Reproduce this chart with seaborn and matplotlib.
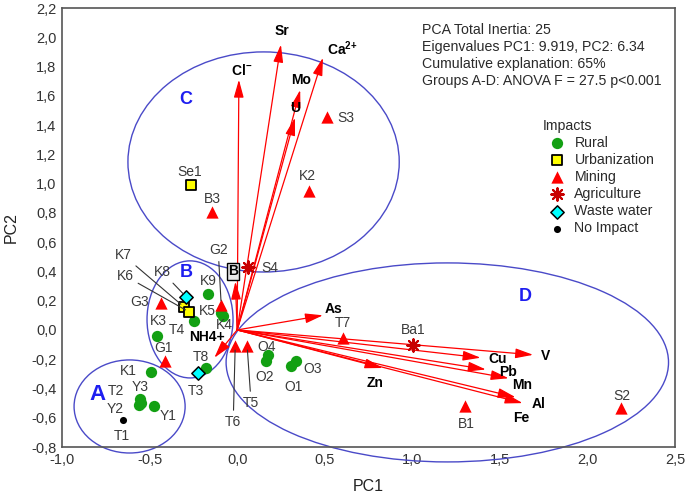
import matplotlib
matplotlib.use("Agg")
import matplotlib.pyplot as plt
from matplotlib.patches import Ellipse
from matplotlib.ticker import MultipleLocator, FuncFormatter
import pandas as pd
import seaborn as sns

# variable loadings (arrows)
vec_names = ["Sr", "Ca2+", "Cl-", "Mo", "U", "B", "NH4+", "As", "Zn",
             "V", "Cu", "Pb", "Mn", "Al", "Fe"]
vec_pc1 = [0.25, 0.49, 0.01, 0.36, 0.33, -0.01, -0.13, 0.49, 0.83,
           1.69, 1.39, 1.42, 1.55, 1.59, 1.63]
vec_pc2 = [1.95, 1.86, 1.71, 1.64, 1.45, 0.33, -0.19, 0.10, -0.26,
           -0.17, -0.19, -0.27, -0.33, -0.46, -0.50]

# sample scores
site = ["K9", "K5", "K4", "T4", "K3", "K1", "Y3", "T2", "Y2", "Y1", "T8", "O4", "O2", "O3", "O1",
        "Se1", "K7", "K6",
        "S3", "K2", "B3", "G3", "G2", "G1", "T6", "T5", "T7", "B1", "S2",
        "S4", "Ba1",
        "K8", "T3",
        "T1"]
pc1 = [-0.166, -0.091, -0.080, -0.246, -0.457, -0.491, -0.554, -0.549, -0.560, -0.474, -0.177, 0.177, 0.166, 0.337, 0.309,
       -0.263, -0.303, -0.274,
       0.514, 0.411, -0.143, -0.434, -0.091, -0.411, -0.011, 0.057, 0.606, 1.303, 2.194,
       0.063, 1.006,
       -0.291, -0.223,
       -0.651]
pc2 = [0.246, 0.116, 0.096, 0.062, -0.041, -0.287, -0.472, -0.499, -0.513, -0.519, -0.260, -0.171, -0.212, -0.212, -0.246,
       0.991, 0.157, 0.123,
       1.456, 0.950, 0.807, 0.185, 0.171, -0.212, -0.109, -0.109, -0.055, -0.519, -0.533,
       0.431, -0.103,
       0.226, -0.294,
       -0.615]
impact = (["Rural"] * 15 + ["Urbanization"] * 3 + ["Mining"] * 11 +
          ["Agriculture"] * 2 + ["Waste water"] * 2 + ["No Impact"])

# group ellipses
groups = ["A", "B", "C", "D"]
grp_x = [-0.614, -0.269, 0.151, 1.20]
grp_y = [-0.523, 0.072, 1.148, -0.222]
grp_w = [0.634, 0.491, 1.549, 2.526]
grp_h = [0.636, 0.80, 1.504, 1.36]

df = pd.DataFrame({"site": site, "PC1": pc1, "PC2": pc2, "impact": impact})

styles = {
    "Rural": dict(marker="o", color="#13a013", s=66, linewidth=0),
    "Urbanization": dict(marker="s", color="#ffff00", s=46, edgecolor="black", linewidth=1.3),
    "Mining": dict(marker="^", color="#ff0000", s=78, linewidth=0),
    "Agriculture": dict(marker=(8, 2, 0), color="#c80000", s=80, linewidth=1.5),
    "Waste water": dict(marker="D", color="#00ffff", s=46, edgecolor="black", linewidth=1.1),
    "No Impact": dict(marker="o", color="black", s=26, linewidth=0),
}

# label offsets in pixels (dx, dy), and which use leader lines
lab_off = {"K9": (0, 13), "K5": (-14, 2), "K4": (1, -9), "T4": (-17, -9), "K3": (1, 15),
           "K1": (-23, 1), "Y3": (0, 12), "T2": (-25, 12), "Y2": (-24, -4), "Y1": (14, -10),
           "T8": (-5, 11), "O4": (-2, 8), "O2": (-2, -16), "O3": (16, -8), "O1": (2, -21),
           "Se1": (-1, 13), "K7": (-61, 52), "K6": (-64, 36), "S3": (19, -1), "K2": (-2, 15),
           "B3": (0, 13), "G3": (-22, 1), "G2": (-3, 55), "G1": (-2, 13), "T6": (-2, -76),
           "T5": (4, -57), "T7": (0, 15), "B1": (1, -18), "S2": (0, 12), "S4": (22, -1),
           "Ba1": (0, 15), "K8": (-24, 25), "T3": (-2, -18), "T1": (-1, -16)}
leader = {"K7", "K6", "K8", "G2", "T6", "T5"}

vec_text = {"Ca2+": "$\\mathbf{Ca^{2{+}}}$", "Cl-": "$\\mathbf{Cl^{{-}}}$"}
vec_lab = {"Sr": (0.257, 2.04), "Ca2+": (0.60, 1.92), "Cl-": (0.025, 1.77),
           "Mo": (0.366, 1.71), "U": (0.331, 1.52), "B": (-0.023, 0.40), "NH4+": (-0.171, -0.048),
           "As": (0.55, 0.144), "Zn": (0.789, -0.362), "V": (1.76, -0.178), "Cu": (1.486, -0.198),
           "Pb": (1.549, -0.287), "Mn": (1.629, -0.376), "Al": (1.72, -0.506), "Fe": (1.623, -0.60)}

sns.set_style("white")
plt.rcParams["font.family"] = ["Liberation Sans", "DejaVu Sans"]
plt.rcParams["mathtext.fontset"] = "custom"
plt.rcParams["mathtext.rm"] = "Liberation Sans"
plt.rcParams["mathtext.bf"] = "Liberation Sans:bold"

fig = plt.figure(figsize=(6.85, 4.98), dpi=100)
ax = fig.add_axes([0.0905, 0.1024, 0.8949, 0.8815])

# ellipses
for g, cx, cy, w, h in zip(groups, grp_x, grp_y, grp_w, grp_h):
    ax.add_patch(Ellipse((cx, cy), w, h, fill=False, edgecolor="#4a4ac8", lw=1.0,
                         clip_on=False, zorder=1))

# arrows
for name, vx, vy in zip(vec_names, vec_pc1, vec_pc2):
    ax.annotate("", xy=(vx, vy), xytext=(0, 0),
                arrowprops=dict(arrowstyle="-|>,head_length=0.9,head_width=0.25",
                                color="#ff0000", lw=0.9, shrinkA=0, shrinkB=0,
                                mutation_scale=12), zorder=2)
    tx, ty = vec_lab[name]
    bbox = None
    if name == "B":
        bbox = dict(boxstyle="square,pad=0.08", fc="#e8e8e8", ec="black", lw=1.0)
    ax.text(tx, ty, vec_text.get(name, name), fontsize=10, fontweight="bold",
            ha="center", va="center", color="black", bbox=bbox, zorder=4)

# sample points
for imp, st in styles.items():
    sub = df[df["impact"] == imp]
    sns.scatterplot(data=sub, x="PC1", y="PC2", ax=ax, label=imp, zorder=3, **st)

for s_, x_, y_ in zip(site, pc1, pc2):
    dx, dy = lab_off[s_]
    props = None
    if s_ in leader:
        props = dict(arrowstyle="-", color="#333333", lw=0.8, shrinkA=1, shrinkB=3)
    ax.annotate(s_, xy=(x_, y_), xytext=(dx, dy), textcoords="offset pixels",
                ha="center", va="center", fontsize=10, color="#3a3a3a",
                arrowprops=props, zorder=4)

# group letters
for g, lx, ly, fs in zip(groups, [-0.80, -0.291, -0.291, 1.646], [-0.444, 0.39, 1.572, 0.226],
                         [16, 13, 13, 13]):
    ax.text(lx, ly, g, color="#1e1ef0", fontsize=fs, fontweight="bold", ha="center", va="center")

ax.text(0.587, 0.966,
        "PCA Total Inertia: 25\nEigenvalues PC1: 9.919, PC2: 6.34\n"
        "Cumulative explanation: 65%\nGroups A-D: ANOVA F = 27.5 p<0.001",
        transform=ax.transAxes, ha="left", va="top", fontsize=10.2, color="#2a2a2a",
        linespacing=1.27)

leg = ax.legend(title="Impacts", loc="upper left", bbox_to_anchor=(0.784, 0.748),
                frameon=False, fontsize=10.2, title_fontsize=10.2, labelspacing=0.22,
                handletextpad=0.15, handlelength=2.1, borderpad=0, borderaxespad=0)
leg._legend_box.align = "left"
for t in leg.get_texts():
    t.set_color("#2a2a2a")
leg.get_title().set_color("#2a2a2a")

ax.set_xlim(-1.0, 2.5)
ax.set_ylim(-0.8, 2.2)
ax.xaxis.set_major_locator(MultipleLocator(0.5))
ax.xaxis.set_minor_locator(MultipleLocator(0.1))
ax.yaxis.set_major_locator(MultipleLocator(0.2))
ax.yaxis.set_minor_locator(MultipleLocator(0.1))
fmt = FuncFormatter(lambda v, p: f"{round(v, 1) + 0.0:.1f}".replace(".", ","))
ax.xaxis.set_major_formatter(fmt)
ax.yaxis.set_major_formatter(fmt)
ax.tick_params(which="both", direction="in", length=3, width=0.8, color="#444444",
               labelsize=10.5, labelcolor="#333333", pad=4)
for sp in ax.spines.values():
    sp.set_color("#555555")
    sp.set_linewidth(1.2)

ax.set_xlabel("PC1", fontsize=11.5, color="#222222", labelpad=9)
ax.set_ylabel("PC2", fontsize=11.5, color="#222222", labelpad=9)

fig.savefig("out.png", dpi=100)
